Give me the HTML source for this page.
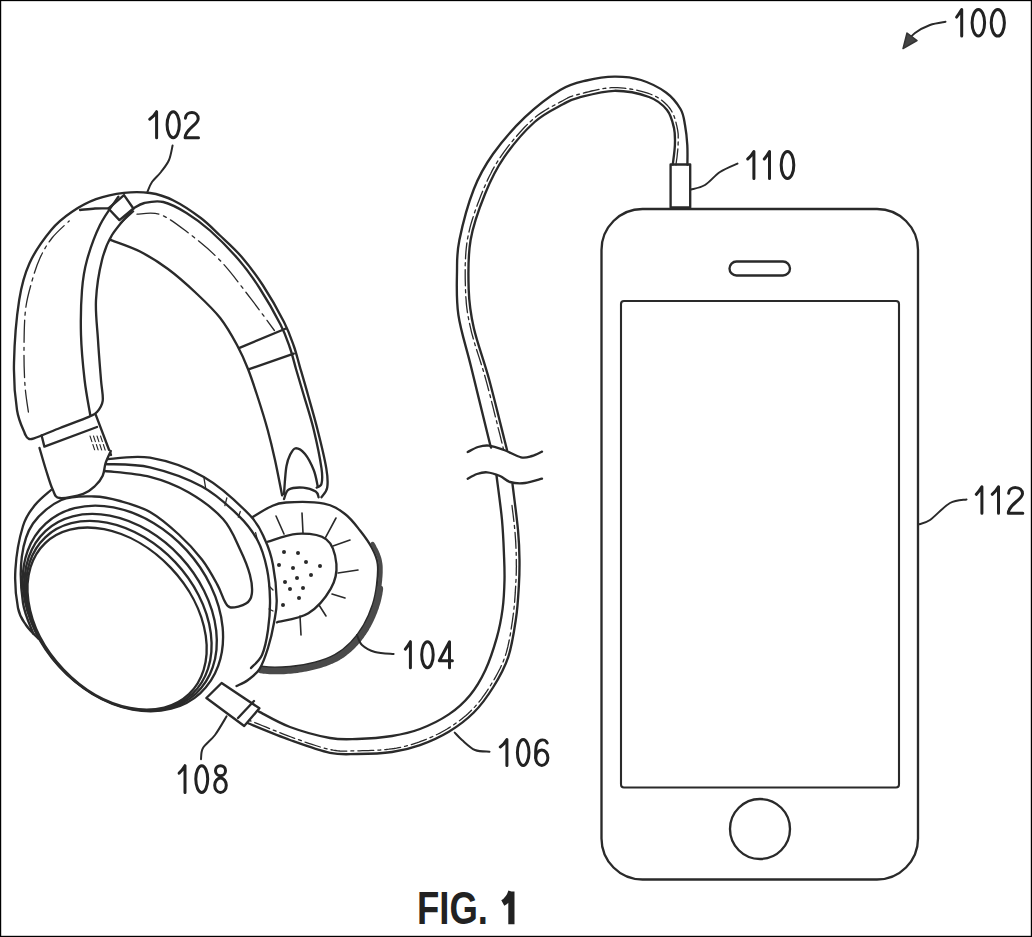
<!DOCTYPE html>
<html><head><meta charset="utf-8"><style>
html,body{margin:0;padding:0;background:#fff;}
body{width:1032px;height:937px;overflow:hidden;position:relative;}
svg{position:absolute;left:0;top:0;}
text{font-family:"Liberation Sans",sans-serif;fill:#222;}
</style></head><body>
<svg width="1032" height="937" viewBox="0 0 1032 937">
<rect x="0.6" y="0.55" width="1030.8" height="935.85" fill="none" stroke="#000" stroke-width="1.2"/>
<g fill="none" stroke="#2a2a2a" stroke-width="2.35" stroke-linecap="round" stroke-linejoin="round">
<rect x="601.5" y="209" width="316.5" height="670.5" rx="41" ry="41"/>
<rect x="621" y="301" width="278" height="486.5" rx="3" ry="3" stroke-width="2.1"/>
<rect x="729.5" y="261.5" width="60.5" height="14" rx="7" ry="7"/>
<circle cx="760" cy="829" r="30"/>
<rect x="670.6" y="164.5" width="19.6" height="43" />
<path d="M687.4 164.5 C687.4 161.2 687.7 151.6 687.3 145.0 C686.9 138.4 686.1 131.0 685.0 125.0 C683.9 119.0 683.7 114.4 680.5 109.0 C677.3 103.6 672.6 97.3 666.0 92.5 C659.4 87.7 649.6 82.7 641.0 80.0 C632.4 77.3 623.5 76.5 614.4 76.6 C605.3 76.7 595.5 78.3 586.5 80.5 C577.5 82.7 570.5 83.9 560.2 90.0 C550.0 96.1 536.2 106.5 525.0 117.2 C513.8 127.9 501.5 142.0 493.0 154.0 C484.5 166.0 479.4 174.9 473.8 189.2 C468.2 203.5 462.2 226.2 459.4 240.0 C456.6 253.8 457.2 259.2 457.0 271.7 C456.8 284.2 456.1 299.2 458.4 315.0 C460.7 330.8 465.9 345.7 471.0 366.5 C476.1 387.3 485.7 426.8 489.0 440.0 C492.3 453.2 490.7 445.0 491.0 446.0"/>
<path d="M672.8 164.5 C673.1 161.2 674.7 151.1 674.9 145.0 C675.1 138.9 675.3 133.8 674.0 128.0 C672.7 122.2 671.2 115.2 667.0 110.0 C662.8 104.8 657.8 100.2 649.0 97.0 C640.2 93.8 626.1 90.7 614.4 90.8 C602.7 90.9 587.3 95.4 578.8 97.6 C570.3 99.8 570.8 99.9 563.4 104.0 C556.0 108.1 544.5 113.1 534.6 122.0 C524.7 130.9 512.5 145.2 504.2 157.2 C495.9 169.2 490.6 180.2 485.0 194.0 C479.4 207.8 473.3 224.1 470.6 240.0 C467.9 255.9 468.2 274.9 468.7 289.6 C469.2 304.3 470.4 313.1 473.8 328.0 C477.2 342.9 483.9 360.3 489.0 379.0 C494.1 397.7 501.5 428.2 504.5 440.0 C507.5 451.8 506.6 448.3 507.0 450.0"/>
<path d="M676.0 164.9 L676.1 163.9 L676.2 162.8 L676.4 161.4 L676.6 159.8 L676.9 158.0 L677.1 156.2 L677.3 154.3 L677.5 152.4 L677.7 150.5 L677.9 148.6 L678.0 146.8 L678.1 145.1 L678.1 143.6 L678.2 142.1 L678.2 140.7 L678.2 139.2 L678.2 137.8 L678.2 136.3 L678.2 134.8 L678.1 133.4 L677.9 131.9 L677.7 130.4 L677.4 128.9 L677.1 127.3 L676.8 125.8 L676.4 124.3 L676.0 122.7 L675.6 121.0 L675.1 119.4 L674.6 117.7 L674.0 116.0 L673.3 114.4 L672.5 112.7 L671.6 111.1 L670.6 109.5 L669.5 108.0 L668.4 106.6 L667.2 105.3 L665.9 104.0 L664.6 102.7 L663.2 101.4 L661.7 100.2 L660.0 99.0 L658.3 97.9 L656.5 96.8 L654.5 95.8 L652.4 94.9 L650.1 94.0 L647.7 93.2 L645.1 92.4 L642.4 91.6 L639.5 90.8 L636.5 90.1 L633.4 89.5 L630.2 89.0 L627.1 88.5 L623.8 88.1 L620.6 87.8 L617.5 87.6 L614.4 87.6 L611.2 87.7 L607.9 88.0 L604.6 88.4 L601.3 89.0 L598.0 89.6 L594.7 90.3 L591.5 91.0 L588.4 91.8 L585.5 92.5 L582.8 93.2 L580.2 93.9 L578.0 94.5 L576.0 95.0 L574.4 95.5 L572.9 95.9 L571.6 96.3 L570.5 96.7 L569.4 97.2 L568.3 97.7 L567.3 98.2 L566.2 98.8 L564.9 99.5 L563.5 100.3 L561.9 101.2 L560.0 102.2 L557.9 103.3 L555.7 104.4 L553.3 105.7 L550.9 107.0 L548.3 108.4 L545.7 110.0 L543.1 111.6 L540.4 113.4 L537.7 115.3 L535.1 117.4 L532.5 119.6 L529.9 122.0 L527.2 124.6 L524.5 127.3 L521.8 130.2 L519.1 133.2 L516.4 136.3 L513.7 139.5 L511.1 142.7 L508.5 145.9 L506.1 149.1 L503.7 152.3 L501.6 155.4 L499.5 158.4 L497.6 161.4 L495.8 164.4 L494.0 167.4 L492.3 170.4 L490.8 173.5 L489.2 176.5 L487.7 179.6 L486.3 182.8 L484.9 186.0 L483.4 189.4 L482.0 192.8 L480.6 196.3 L479.2 199.9 L477.8 203.6 L476.4 207.4 L475.0 211.3 L473.7 215.2 L472.4 219.2 L471.2 223.2 L470.1 227.2 L469.1 231.3 L468.2 235.4 L467.4 239.5 L466.8 243.6 L466.3 247.8 L465.9 252.1 L465.6 256.5 L465.4 260.8 L465.2 265.2 L465.2 269.5 L465.2 273.8 L465.2 277.9 L465.3 282.0 L465.4 285.9 L465.5 289.7 L465.7 293.3 L465.8 296.7 L466.1 299.9 L466.3 303.1 L466.6 306.1 L467.0 309.1 L467.4 312.2 L467.9 315.2 L468.5 318.4 L469.1 321.6 L469.9 325.1 L470.7 328.7 L471.6 332.6 L472.7 336.5 L473.8 340.5 L475.0 344.6 L476.3 348.8 L477.7 353.1 L479.1 357.4 L480.5 361.8 L481.9 366.2 L483.3 370.7 L484.6 375.2 L485.9 379.9 L487.2 384.7 L488.6 390.0 L490.1 395.5 L491.5 401.3 L493.0 407.1 L494.4 412.8 L495.8 418.5 L497.2 423.8 L498.4 428.9 L499.6 433.4 L500.6 437.4 L501.4 440.8 L502.1 443.4 L502.6 445.5 L503.0 447.1 L503.3 448.3 L503.5 449.1 L503.6 449.6" stroke-width="1.3" stroke-dasharray="16 4 3 4"/>
<path d="M467.7 452.0 C469.4 451.2 474.4 448.1 478.0 447.0 C481.6 445.9 484.7 445.1 489.0 445.6 C493.3 446.1 498.7 448.1 504.0 450.0 C509.3 451.9 516.3 456.3 521.0 457.3 C525.7 458.3 528.5 456.9 532.0 456.0 C535.5 455.1 540.3 452.3 542.0 451.6"/>
<path d="M467.7 478.7 C469.2 477.9 473.8 475.1 477.0 474.0 C480.2 472.9 483.2 472.0 487.0 472.3 C490.8 472.6 496.2 474.4 500.0 476.0 C503.8 477.6 505.8 480.8 510.0 482.0 C514.2 483.2 519.7 483.6 525.0 483.0 C530.3 482.4 539.2 479.4 542.0 478.7"/>
<path d="M496.5 475.5 C497.4 482.9 500.8 506.8 502.0 520.0 C503.2 533.2 503.6 545.0 504.0 555.0 C504.4 565.0 504.7 571.0 504.5 580.0 C504.3 589.0 503.9 599.2 502.6 608.8 C501.3 618.4 499.7 627.4 496.8 637.6 C493.9 647.8 489.8 660.6 485.3 670.2 C480.8 679.8 476.1 687.8 470.0 695.2 C463.9 702.6 457.1 708.8 448.8 714.4 C440.5 720.0 429.5 725.4 420.0 729.0 C410.5 732.6 402.5 734.3 392.0 736.0 C381.5 737.7 367.3 738.7 357.0 739.0 C346.7 739.3 341.2 740.0 330.0 738.0 C318.8 736.0 301.8 731.4 290.0 727.0 C278.2 722.6 264.2 714.2 259.0 711.6"/>
<path d="M512.5 484.0 C513.4 491.7 516.8 517.3 518.0 530.0 C519.2 542.7 519.4 550.8 519.5 560.0 C519.6 569.2 519.5 575.3 518.9 585.0 C518.3 594.7 517.8 606.4 516.0 618.4 C514.2 630.4 512.1 645.3 508.3 656.8 C504.5 668.3 498.8 678.2 493.0 687.5 C487.2 696.8 481.2 705.1 473.8 712.5 C466.4 719.9 457.8 726.3 448.8 731.7 C439.8 737.1 429.5 741.7 420.0 745.1 C410.5 748.5 402.5 750.5 392.0 752.0 C381.5 753.5 367.3 753.9 357.0 754.0 C346.7 754.1 341.2 755.1 330.0 752.8 C318.8 750.5 304.2 745.1 290.0 740.0 C275.8 734.9 252.5 725.0 245.0 722.0"/>
<path d="M512.0 505.5 L512.5 510.0 L513.1 514.5 L513.6 518.9 L514.1 523.1 L514.5 526.9 L514.8 530.3 L515.1 533.3 L515.3 536.2 L515.5 539.0 L515.7 541.6 L515.8 544.1 L515.9 546.5 L516.0 548.8 L516.1 551.1 L516.2 553.3 L516.2 555.5 L516.3 557.8 L516.3 560.0 L516.3 562.3 L516.3 564.4 L516.4 566.4 L516.3 568.4 L516.3 570.3 L516.3 572.2 L516.2 574.1 L516.2 576.1 L516.1 578.1 L516.0 580.2 L515.8 582.5 L515.7 584.8 L515.6 587.3 L515.4 589.8 L515.3 592.4 L515.1 595.1 L514.9 597.8 L514.7 600.6 L514.5 603.4 L514.2 606.3 L513.9 609.2 L513.6 612.1 L513.2 615.0 L512.8 617.9 L512.4 621.0 L511.9 624.1 L511.4 627.3 L510.9 630.6 L510.4 633.9 L509.8 637.2 L509.2 640.5 L508.5 643.7 L507.8 646.9 L507.0 650.0 L506.2 652.9 L505.3 655.8 L504.3 658.5 L503.3 661.2 L502.2 663.9 L501.0 666.5 L499.8 669.0 L498.5 671.5 L497.2 674.0 L495.9 676.4 L494.5 678.8 L493.1 681.2 L491.7 683.5 L490.3 685.8 L488.9 688.1 L487.4 690.3 L486.0 692.5 L484.5 694.6 L483.0 696.7 L481.5 698.8 L479.9 700.8 L478.3 702.8 L476.7 704.7 L475.0 706.6 L473.3 708.4 L471.5 710.2 L469.7 712.0 L467.9 713.7 L466.0 715.4 L464.0 717.1 L462.0 718.7 L460.0 720.3 L457.9 721.8 L455.8 723.3 L453.7 724.8 L451.5 726.2 L449.3 727.6 L447.1 729.0 L444.9 730.3 L442.7 731.5 L440.4 732.8 L438.0 734.0 L435.6 735.1 L433.3 736.3 L430.8 737.3 L428.4 738.4 L426.0 739.4 L423.6 740.3 L421.3 741.2 L418.9 742.1 L416.6 742.9 L414.4 743.6 L412.2 744.3 L410.0 745.0 L407.8 745.6 L405.6 746.2 L403.4 746.7 L401.2 747.2 L398.9 747.6 L396.5 748.1 L394.1 748.5 L391.6 748.8 L388.9 749.2 L386.2 749.5 L383.3 749.7 L380.3 750.0 L377.3 750.1 L374.3 750.3 L371.2 750.4 L368.2 750.6 L365.3 750.6 L362.4 750.7 L359.6 750.8 L356.9 750.8 L354.4 750.8 L352.1 750.9 L349.9 751.0 L347.8 751.1 L345.8 751.1 L343.8 751.1 L341.9 751.1 L339.9 751.0 L337.8 750.8 L335.6 750.5 L333.2 750.2 L330.7 749.7 L327.9 749.0 L325.0 748.3 L321.9 747.5 L318.7 746.5 L315.5 745.5 L312.1 744.4 L308.7 743.3 L305.2 742.1 L301.7 740.8 L298.2 739.6 L294.6 738.3 L291.1 737.0 L287.4 735.6 L283.4 734.1 L279.2 732.5 L274.9 730.7 L270.5 729.0 L266.2 727.2 L262.0 725.5 L258.1 723.9 L254.4 722.4 L251.2 721.1 L248.4 719.9 L246.2 719.0" stroke-width="1.3" stroke-dasharray="16 4 3 4"/>
<path d="M284.0 494.0 C284.2 491.7 284.6 484.7 285.0 480.0 C285.4 475.3 285.7 470.2 286.5 466.0 C287.3 461.8 288.5 457.9 290.0 455.0 C291.5 452.1 293.0 448.5 295.5 448.3 C298.0 448.1 301.9 450.3 305.0 454.0 C308.1 457.7 311.7 465.0 313.8 470.3 C315.9 475.6 317.0 483.1 317.6 485.7"/>
<path d="M25.0 434.0 C23.7 430.0 18.8 421.8 17.0 410.0 C15.2 398.2 13.6 381.3 14.0 363.0 C14.4 344.7 16.6 316.6 19.2 300.0 C21.8 283.4 24.2 274.9 29.5 263.2 C34.8 251.5 44.2 238.5 51.2 230.0 C58.2 221.5 64.2 217.1 71.7 212.0 C79.2 206.9 87.3 202.4 96.0 199.2 C104.7 196.0 115.0 193.8 124.0 192.8 C133.0 191.8 141.8 191.8 150.0 193.0 C158.2 194.2 164.5 196.0 173.0 200.2 C181.5 204.4 193.0 212.1 200.8 218.0 C208.6 223.9 213.2 229.1 220.0 235.5 C226.8 241.9 234.2 248.2 241.3 256.5 C248.4 264.8 255.6 274.1 262.7 285.0 C269.8 295.9 278.8 311.8 284.0 322.0 C289.2 332.2 291.1 338.4 293.8 346.0 C296.5 353.6 297.6 359.1 300.0 367.3 C302.4 375.5 305.1 384.6 308.0 395.0 C310.9 405.4 314.6 417.8 317.6 430.0 C320.7 442.2 324.7 458.8 326.3 468.4 C327.9 478.0 328.0 482.8 327.2 487.6 C326.4 492.4 322.4 495.6 321.5 497.2"/>
<path d="M133.4 208.5 C135.2 207.6 139.4 204.1 144.4 203.0 C149.4 201.9 156.3 200.3 163.3 202.0 C170.3 203.7 178.7 208.2 186.5 212.9 C194.3 217.7 201.3 222.7 210.0 230.5 C218.7 238.3 230.2 249.9 238.5 259.5 C246.8 269.1 252.5 277.2 259.5 288.0 C266.5 298.8 275.4 314.5 280.5 324.5 C285.6 334.5 287.4 340.6 290.0 348.0 C292.6 355.4 293.7 361.0 296.0 369.0 C298.3 377.0 301.0 385.8 304.0 396.0 C307.0 406.2 310.9 417.9 313.8 430.0 C316.7 442.1 320.2 459.4 321.5 468.4 C322.8 477.4 322.3 480.6 321.5 483.8 C320.7 487.0 317.5 487.0 316.7 487.6"/>
<path d="M137.0 214.2 C140.8 214.2 151.8 211.6 160.0 214.5 C168.2 217.4 176.4 223.8 186.5 231.5 C196.6 239.2 209.8 249.6 220.6 261.0 C231.4 272.4 242.6 288.1 251.6 299.7 C260.6 311.3 270.6 325.4 274.4 330.5" stroke-width="1.3" stroke-dasharray="22 5 3 5"/>
<path d="M110.2 239.8 C115.2 241.8 130.4 246.6 140.0 251.5 C149.6 256.4 158.7 262.1 168.0 269.0 C177.3 275.9 187.3 284.8 196.0 293.0 C204.7 301.2 213.4 309.3 220.2 318.0 C227.0 326.7 232.4 336.5 237.0 345.0 C241.6 353.5 244.5 360.2 248.0 369.0 C251.5 377.8 254.7 387.8 258.0 398.0 C261.3 408.2 264.9 419.7 267.7 430.0 C270.5 440.3 272.6 449.1 275.0 460.0 C277.4 470.9 280.9 489.4 282.1 495.3"/>
<path d="M239.5 347.9 L286.0 328.5"/>
<path d="M249.2 369.2 L293.8 353.7"/>
<path d="M25.0 434.0 C25.5 434.7 26.5 437.6 28.0 438.3 C29.5 439.0 28.7 440.0 34.0 438.3 C39.3 436.6 50.9 431.6 60.0 428.0 C69.1 424.4 82.6 419.5 88.8 416.8 C95.0 414.1 94.7 414.7 97.0 412.0 C99.3 409.3 102.0 406.1 102.7 400.8 C103.4 395.5 101.8 390.1 101.0 380.0 C100.2 369.9 98.8 353.3 98.0 340.0 C97.2 326.7 95.3 313.3 96.0 300.0 C96.7 286.7 99.3 270.8 102.0 260.0 C104.7 249.2 106.8 243.6 112.0 235.0 C117.2 226.4 129.9 212.8 133.5 208.4"/>
<path d="M90.2 414.7 C89.3 408.9 86.1 393.3 84.6 380.0 C83.1 366.7 81.4 350.0 81.0 335.0 C80.6 320.0 81.0 302.5 82.0 290.0 C83.0 277.5 84.0 270.8 87.0 260.0 C90.0 249.2 94.8 235.6 100.0 225.0 C105.2 214.4 115.3 201.4 118.4 196.7"/>
<path d="M80.0 210.0 C82.5 209.8 90.2 208.8 95.0 208.5 C99.8 208.2 106.7 208.4 109.0 208.4"/>
<path d="M28.4 412.0 C27.8 407.6 25.7 395.8 25.0 385.5 C24.3 375.2 23.9 362.6 24.0 350.0 C24.1 337.4 24.2 321.5 25.5 310.0 C26.8 298.5 29.6 289.7 32.0 281.0 C34.4 272.3 36.7 265.2 40.0 258.0 C43.3 250.8 47.1 244.2 52.0 238.0 C56.9 231.8 66.3 223.8 69.2 221.0" stroke-width="1.3" stroke-dasharray="22 5 3 5"/>
<path d="M108.4 208.5 L124.0 195.1 L133.4 208.5 L119.4 220.1Z"/>
<path d="M120.6 223.0 L133.4 211.4" stroke-width="1.8"/>
<path d="M41.6 435.5 L44.4 446.6 L97.0 427.0"/>
<path d="M95.7 414.7 L111.0 455.0"/>
<path d="M90.0 436.0 L98.0 460.0" stroke-width="1.1" stroke-dasharray="6 3"/>
<path d="M93.5 436.0 L101.5 460.0" stroke-width="1.1" stroke-dasharray="6 3"/>
<path d="M97.0 436.0 L105.0 460.0" stroke-width="1.1" stroke-dasharray="6 3"/>
<path d="M100.5 436.0 L108.5 460.0" stroke-width="1.1" stroke-dasharray="6 3"/>
<path d="M251.3 518.0 C254.4 516.2 264.2 509.6 270.0 507.0 C275.8 504.4 277.0 503.1 286.0 502.5 C295.0 501.9 314.2 501.7 324.0 503.6 C333.8 505.5 339.0 509.5 345.0 514.0 C351.0 518.5 355.5 524.8 360.0 530.5 C364.5 536.2 369.0 542.4 372.0 548.0 C375.0 553.6 377.0 557.8 377.8 564.0 C378.6 570.2 377.8 578.3 377.0 585.0 C376.2 591.7 375.2 597.7 373.0 604.4 C370.8 611.1 367.7 618.6 364.0 625.0 C360.3 631.4 355.8 637.5 351.0 642.5 C346.2 647.5 341.0 651.6 335.0 655.0 C329.0 658.4 322.5 660.6 315.0 662.6 C307.5 664.6 298.6 666.3 290.0 667.0 C281.4 667.7 271.9 668.2 263.6 667.0 C255.3 665.8 243.9 661.2 240.0 660.0" fill="#fff"/>
<path d="M372.6 543.8 L373.5 545.3 L374.3 546.8 L375.0 548.2 L375.7 549.5 L376.4 550.9 L377.0 552.2 L377.6 553.5 L378.1 554.8 L378.6 556.2 L379.1 557.6 L379.5 559.0 L379.8 560.5 L380.1 562.0 L380.4 563.7 L380.6 565.4 L380.7 567.1 L380.7 568.9 L380.7 570.7 L380.7 572.6 L380.6 574.4 L380.5 576.3 L380.3 578.2 L380.2 580.0 L380.0 581.8 L379.8 583.6 L379.6 585.3 L379.4 587.0 L379.2 588.7 L378.9 590.3" stroke="#4a4a4a" stroke-width="4"/>
<path d="M379.9 588.8 L379.7 590.4 L379.4 592.1 L379.2 593.7 L378.8 595.4 L378.5 597.0 L378.1 598.7 L377.7 600.4 L377.3 602.0 L376.8 603.7 L376.2 605.4 L375.7 607.2 L375.0 609.0 L374.4 610.7 L373.7 612.5 L372.9 614.4 L372.2 616.2 L371.4 618.0 L370.6 619.8 L369.7 621.5 L368.8 623.3 L367.9 625.0 L366.9 626.7 L366.0 628.3 L365.0 630.0 L363.9 631.6 L362.9 633.2 L361.8 634.7 L360.7 636.3 L359.5 637.8 L358.4 639.3 L357.2 640.7 L355.9 642.2 L354.7 643.5 L353.4 644.9 L352.2 646.1 L350.9 647.4 L349.6 648.6 L348.3 649.8 L346.9 650.9 L345.5 652.0 L344.1 653.1 L342.7 654.2 L341.2 655.2 L339.7 656.1 L338.2 657.1 L336.7 658.0 L335.1 658.8 L333.4 659.6 L331.8 660.4 L330.1 661.1 L328.5 661.8 L326.7 662.5 L325.0 663.1 L323.2 663.7 L321.5 664.3 L319.6 664.8 L317.8 665.4 L315.9 665.9 L313.9 666.4 L311.9 666.9 L309.9 667.3 L307.8 667.8 L305.7 668.2 L303.5 668.6 L301.3 669.0 L299.1 669.3 L296.9 669.7 L294.7 669.9 L292.5 670.2 L290.3 670.4 L288.1 670.6 L285.9 670.7 L283.6 670.9 L281.3 671.0 L279.1 671.1 L276.8 671.1 L274.4 671.1 L272.1 671.1 L269.9 671.0 L267.6 670.8 L265.3 670.6 L263.1 670.4 L260.8 670.0" stroke="#4a4a4a" stroke-width="6.5"/>
<path d="M268.0 541.7 C272.8 540.4 287.3 534.2 297.0 533.8 C306.7 533.4 319.7 534.4 326.3 539.4 C332.9 544.4 335.6 555.8 336.4 564.0 C337.1 572.2 335.5 580.5 330.8 588.7 C326.1 596.9 317.4 607.7 308.4 613.3 C299.4 618.9 282.2 620.8 277.0 622.3"/>
<path d="M276.0 516.0 L284.0 534.0" stroke-width="1.6"/>
<path d="M302.0 513.0 L303.0 533.0" stroke-width="1.6"/>
<path d="M336.0 518.0 L325.6 537.4" stroke-width="1.6"/>
<path d="M333.0 546.0 L350.0 540.0" stroke-width="1.6"/>
<path d="M338.0 573.0 L358.0 570.0" stroke-width="1.6"/>
<path d="M332.0 594.0 L345.0 598.0" stroke-width="1.6"/>
<path d="M319.0 605.0 L326.0 616.0" stroke-width="1.6"/>
<path d="M300.0 616.0 L301.0 635.0" stroke-width="1.6"/>
<path d="M284.0 499.0 C284.8 497.4 285.6 491.5 288.8 489.6 C292.0 487.7 298.7 487.3 303.2 487.6 C307.7 487.9 313.1 489.9 315.7 491.5 C318.3 493.1 318.1 496.2 318.6 497.2"/>
<circle cx="284" cy="552" r="2.0" fill="#2a2a2a" stroke="none"/>
<circle cx="298" cy="553" r="2.0" fill="#2a2a2a" stroke="none"/>
<circle cx="279" cy="565" r="2.0" fill="#2a2a2a" stroke="none"/>
<circle cx="293" cy="568" r="2.0" fill="#2a2a2a" stroke="none"/>
<circle cx="306" cy="562" r="2.0" fill="#2a2a2a" stroke="none"/>
<circle cx="320" cy="566" r="2.0" fill="#2a2a2a" stroke="none"/>
<circle cx="311" cy="575" r="2.0" fill="#2a2a2a" stroke="none"/>
<circle cx="285" cy="582" r="2.0" fill="#2a2a2a" stroke="none"/>
<circle cx="297" cy="578" r="2.0" fill="#2a2a2a" stroke="none"/>
<circle cx="290" cy="589" r="2.0" fill="#2a2a2a" stroke="none"/>
<circle cx="303" cy="588" r="2.0" fill="#2a2a2a" stroke="none"/>
<circle cx="283" cy="605" r="2.0" fill="#2a2a2a" stroke="none"/>
<circle cx="299" cy="598" r="2.0" fill="#2a2a2a" stroke="none"/>
<path d="M105.0 459.4 C121.5 454.0 133.5 454.8 150.0 457.7 C166.5 460.6 187.2 467.3 203.8 476.9 C220.5 486.5 239.7 504.7 249.9 515.3 C260.1 525.9 261.3 532.0 265.2 540.3 C269.1 548.6 271.1 555.0 273.0 565.0 C274.9 575.0 276.5 590.4 276.7 600.0 C276.9 609.6 275.4 614.8 274.0 622.8 C272.6 630.8 270.4 640.3 268.0 648.0 C265.6 655.7 262.9 663.5 259.6 668.8 C256.3 674.1 251.8 677.1 248.0 680.0 C244.2 682.9 242.0 682.3 236.5 686.0 C231.0 689.7 222.8 697.7 215.0 702.0 C207.2 706.3 202.5 710.3 190.0 712.0 C177.5 713.7 155.8 714.5 140.0 712.0 C124.2 709.5 108.8 704.5 95.0 697.0 C81.2 689.5 66.4 676.7 57.0 667.0 C47.6 657.3 43.6 645.7 38.4 638.7 C33.2 631.7 29.4 630.1 26.0 625.0 C22.6 619.9 19.8 617.2 18.0 608.0 C16.2 598.8 14.6 583.3 15.4 569.6 C16.2 555.9 19.7 536.8 23.0 526.0 C26.3 515.2 30.3 511.0 35.0 505.0 C39.7 499.0 39.3 497.6 51.0 490.0 C62.7 482.4 88.5 464.8 105.0 459.4Z" fill="#fff" stroke="none"/>
<path d="M105.0 459.4 C112.5 459.1 133.5 454.8 150.0 457.7 C166.5 460.6 187.2 467.3 203.8 476.9 C220.5 486.5 239.7 504.7 249.9 515.3 C260.1 525.9 261.3 532.0 265.2 540.3 C269.1 548.6 271.1 555.0 273.0 565.0 C274.9 575.0 276.5 590.4 276.7 600.0 C276.9 609.6 275.4 614.8 274.0 622.8 C272.6 630.8 270.4 640.3 268.0 648.0 C265.6 655.7 262.9 663.5 259.6 668.8 C256.3 674.1 251.8 677.1 248.0 680.0 C244.2 682.9 238.4 685.0 236.5 686.0"/>
<path d="M51.0 490.0 C48.3 492.5 39.7 499.0 35.0 505.0 C30.3 511.0 26.3 515.2 23.0 526.0 C19.7 536.8 16.2 555.9 15.4 569.6 C14.6 583.3 16.2 598.8 18.0 608.0 C19.8 617.2 22.6 619.9 26.0 625.0 C29.4 630.1 36.3 636.4 38.4 638.7"/>
<path d="M105.0 464.0 C112.5 464.6 133.8 463.6 150.0 467.3 C166.2 471.1 187.2 478.5 201.9 486.5 C216.6 494.5 229.0 506.3 238.3 515.3 C247.6 524.3 252.7 531.3 257.5 540.3 C262.3 549.2 264.9 559.0 267.0 569.0 C269.1 579.0 269.8 589.8 270.0 600.0 C270.2 610.2 269.3 620.8 268.0 630.0 C266.7 639.2 264.8 648.7 262.0 655.0 C259.2 661.3 252.8 665.8 251.0 668.0"/>
<path d="M105.0 471.0 C112.5 472.0 136.1 473.3 150.0 476.9 C163.9 480.4 176.2 485.3 188.4 492.3 C200.6 499.3 214.3 509.4 223.0 519.0 C231.7 528.6 235.8 540.6 240.3 549.9 C244.8 559.2 248.0 567.4 249.9 574.8 C251.8 582.1 252.5 589.2 251.8 594.0 C251.2 598.8 249.5 601.4 246.0 603.6 C242.5 605.9 234.2 607.8 230.7 607.5 C227.2 607.2 227.2 605.6 224.9 601.7 C222.7 597.9 221.0 591.4 217.2 584.4 C213.4 577.4 208.3 567.8 201.9 559.5 C195.5 551.2 187.5 542.4 178.8 534.5 C170.2 526.6 159.8 517.6 150.0 512.0 C140.2 506.4 129.3 503.6 120.0 501.0 C110.7 498.4 104.1 496.7 94.3 496.5 C84.5 496.3 71.6 495.5 61.4 500.0 C51.2 504.5 39.6 514.0 33.0 523.5 C26.4 533.0 23.5 543.5 21.8 556.8 C20.1 570.0 21.1 590.2 23.0 603.0 C24.9 615.8 31.6 628.5 33.3 633.6"/>
<path d="M203.8 476.9 L205.7 488.4" stroke-width="1.3"/>
<path d="M226.8 498.0 L224.9 505.7" stroke-width="1.3"/>
<path d="M240.3 511.5 L238.3 517.2" stroke-width="1.3"/>
<path d="M255.6 532.6 L257.5 540.3" stroke-width="1.3"/>
<path d="M269.0 586.0 L273.0 590.0" stroke-width="1.3"/>
<path d="M269.0 609.0 L273.0 611.0" stroke-width="1.3"/>
<ellipse cx="122.91" cy="608.43" rx="114.72" ry="86.28" transform="rotate(47.70 122.91 608.43)"/>
<ellipse cx="120.69" cy="612.29" rx="110.74" ry="81.59" transform="rotate(47.21 120.69 612.29)"/>
<ellipse cx="118.83" cy="615.54" rx="107.38" ry="77.64" transform="rotate(46.79 118.83 615.54)"/>
<ellipse cx="117.08" cy="618.59" rx="104.24" ry="73.94" transform="rotate(46.4 117.08 618.59)" fill="#fff"/>
<path d="M39.5 448.0 C40.6 451.7 43.8 463.1 46.0 470.0 C48.2 476.9 50.4 484.9 52.7 489.6 C55.0 494.3 54.6 497.3 59.7 498.0 C64.8 498.7 77.3 495.8 83.2 493.8 C89.1 491.8 91.8 489.0 95.0 486.0 C98.2 483.0 101.0 479.5 102.7 475.7 C104.5 471.9 104.2 467.4 105.5 463.3 C106.8 459.2 109.9 453.1 110.8 451.0" fill="#fff"/>
<path d="M206.4 698.0 L221.6 683.0 L259.4 708.3 L244.2 726.0Z" fill="#fff"/>
<path d="M238.0 718.0 L254.0 701.0"/>
<path d="M172.6 145.4 C172.0 147.8 170.9 155.6 169.0 160.0 C167.1 164.4 163.8 168.3 161.0 172.0 C158.2 175.7 154.3 178.7 152.0 182.0 C149.7 185.3 148.2 190.3 147.4 192.0" stroke-width="2.0"/>
<path d="M691.0 189.5 C693.3 188.8 700.2 187.9 705.0 185.0 C709.8 182.1 714.6 175.6 720.0 172.0 C725.4 168.4 734.6 165.0 737.5 163.6" stroke-width="2.0"/>
<path d="M918.5 524.4 C920.4 523.7 924.8 523.6 930.0 520.0 C935.2 516.4 943.9 506.4 950.0 503.0 C956.1 499.6 963.8 500.0 966.5 499.4" stroke-width="2.0"/>
<path d="M393.6 654.0 C390.5 653.7 380.3 653.5 375.0 652.0 C369.7 650.5 365.0 647.8 362.0 645.0 C359.0 642.2 357.8 636.7 357.0 635.0" stroke-width="2.0"/>
<path d="M489.5 751.7 C487.1 751.4 479.6 752.0 475.0 750.0 C470.4 748.0 465.4 742.9 462.0 740.0 C458.6 737.1 455.9 733.8 454.7 732.6" stroke-width="2.0"/>
<path d="M226.6 716.3 C224.7 719.4 218.9 729.7 215.0 735.0 C211.1 740.3 205.3 744.0 203.0 748.0 C200.7 752.0 201.3 757.3 201.0 759.2" stroke-width="2.0"/>
<path d="M945.5 21.8 C942.9 22.3 935.1 23.1 930.0 25.0 C924.9 26.9 919.0 30.0 915.0 33.0 C911.0 36.0 907.5 41.3 906.0 43.0" stroke-width="2"/>
<path d="M907 33 L903 48.6 L917 40.5 Z" fill="#444" stroke="#333" stroke-width="1.5"/>
</g>
<g fill="none" stroke="#222" stroke-width="3.0" stroke-linecap="round" stroke-linejoin="round">
<path d="M956.6 17.1 Q958.7 14.6 961.7 9.6 L961.7 36.1"/>
<ellipse cx="978.35" cy="22.85" rx="6.25" ry="13.25"/>
<ellipse cx="997.80" cy="22.85" rx="6.60" ry="13.25"/>
<path d="M149.7 119.2 Q153.6 116.7 156.6 111.7 L156.6 137.8"/>
<ellipse cx="173.20" cy="124.75" rx="6.10" ry="13.05"/>
<path d="M185.4 118.2 C185.8 110.7 198.2 110.4 198.2 118.7 C198.2 124.7 185.1 129.2 185.1 137.8 L198.5 137.8"/>
<path d="M747.7 159.0 Q750.9 156.5 753.9 151.5 L753.9 178.5"/>
<path d="M764.3 159.0 Q766.5 156.5 769.5 151.5 L769.5 178.5"/>
<ellipse cx="787.50" cy="165.00" rx="6.30" ry="13.50"/>
<path d="M976.3 494.3 Q978.9 491.8 981.9 486.8 L981.9 513.3"/>
<path d="M992.3 494.3 Q995.5 491.8 998.5 486.8 L998.5 513.3"/>
<path d="M1008.6 493.3 C1009.0 485.8 1022.5 485.5 1022.5 493.8 C1022.5 499.8 1008.3 504.3 1008.3 513.3 L1022.8 513.3"/>
<path d="M405.3 649.2 Q407.4 646.7 410.4 641.7 L410.4 667.7"/>
<ellipse cx="427.45" cy="654.70" rx="5.75" ry="13.00"/>
<path d="M449.5 667.7 L449.5 641.7 L439.3 660.7 L452.4 660.7"/>
<path d="M500.3 747.0 Q503.9 744.5 506.9 739.5 L506.9 765.4"/>
<ellipse cx="523.20" cy="752.45" rx="5.80" ry="12.95"/>
<ellipse cx="541.80" cy="757.70" rx="6.10" ry="7.70"/>
<path d="M547.2 743.0 C545.4 738.5 535.7 737.5 535.7 751.0 L535.7 757.7"/>
<path d="M179.1 773.2 Q182.0 770.7 185.0 765.7 L185.0 792.5"/>
<ellipse cx="201.75" cy="779.10" rx="5.95" ry="13.40"/>
<ellipse cx="220.50" cy="770.70" rx="5.00" ry="5.00"/>
<ellipse cx="220.50" cy="785.30" rx="5.80" ry="7.20"/>
</g>
<text x="417" y="924.3" font-size="47" font-weight="bold" textLength="71" lengthAdjust="spacingAndGlyphs">FIG.</text>
<path d="M511.4 924.3 L511.4 891.5 M502.8 903 Q509 899.5 511.4 891.5" fill="none" stroke="#222" stroke-width="6.2"/>
</svg>
</body></html>
